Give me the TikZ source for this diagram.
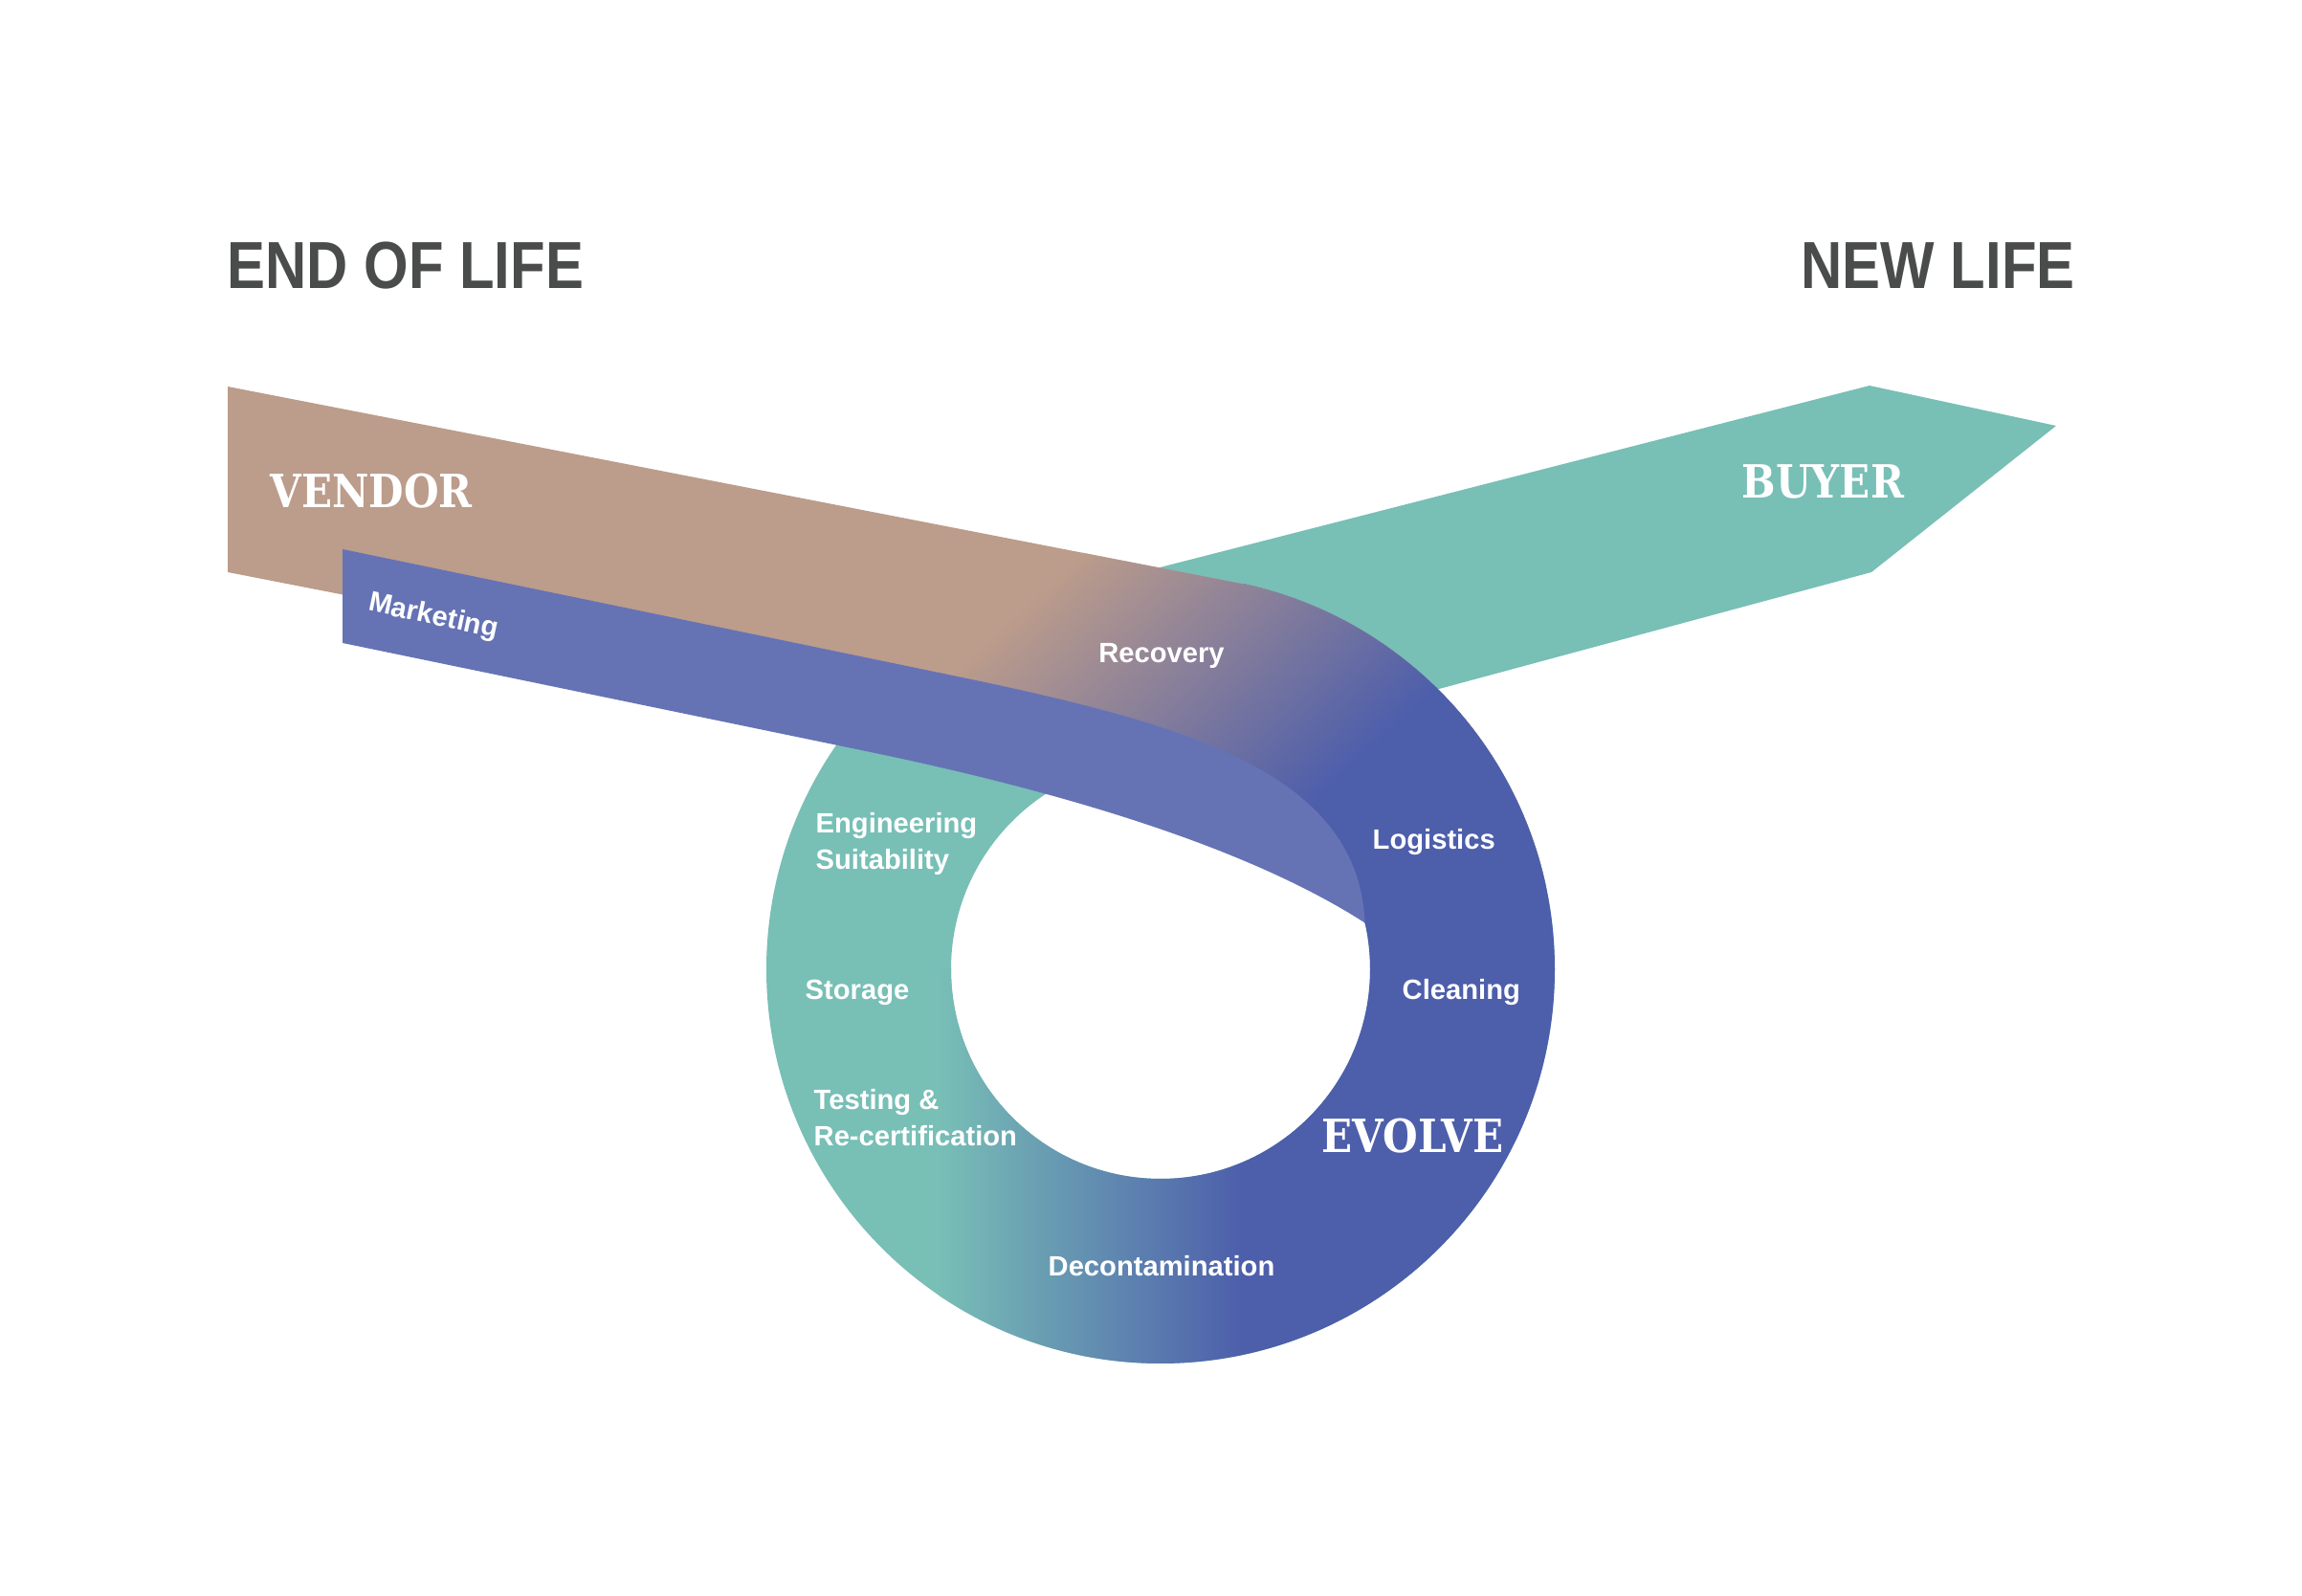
\documentclass[tikz,border=0pt]{standalone}
\usepackage{fontspec}
\setmainfont{Liberation Sans}
\newfontfamily\headfont[FakeStretch=0.86]{Liberation Sans}
\newfontfamily\slabfont[FakeStretch=0.88]{DejaVu Serif}
\usetikzlibrary{calc}

\definecolor{vendorbrown}{HTML}{BC9C8B}
\definecolor{loopteal}{HTML}{78BFB6}
\definecolor{loopblue}{HTML}{4D5EAB}
\definecolor{marketblue}{HTML}{6573B5}
\definecolor{headgray}{HTML}{4A4B4B}

\tikzset{
  headtitle/.style={anchor=base west, inner sep=0pt, text=headgray,
    font=\headfont\bfseries\fontsize{19.8}{22}\selectfont},
  slablabel/.style={anchor=base west, inner sep=0pt, text=white,
    font=\slabfont\bfseries\fontsize{13.6}{16}\selectfont},
  looplabel/.style={inner sep=0pt, text=white, align=left,
    font=\bfseries\fontsize{8.3}{10.8}\selectfont},
}

\begin{document}
\begin{tikzpicture}

  % page, 2406 x 1668 px at 100 px per cm
  \fill[white] (0,0) rectangle (24.06,16.68);
  \useasboundingbox (0,0) rectangle (24.06,16.68);

  % loop centre and radii
  \coordinate (c) at (12.13,6.55);
  \def\Rout{4.12}
  \def\Rin{2.19}
  \coordinate (tip) at ($(c)+(12.8:\Rin)$);

  % Buyer arrow (goes under the loop and the vendor band)
  \fill[loopteal] (11.5,10.59) -- (19.54,12.65) -- (21.49,12.23)
    -- (19.56,10.70) -- (14.3,9.28) -- cycle;

  % Loop: teal on the left, blue on the right, blend along the bottom
  \begin{scope}[even odd rule]
    \clip (c) circle[radius=\Rout] (c) circle[radius=\Rin];
    \fill[loopteal] (7.9,2.3) rectangle (16.4,10.8);
    \fill[loopblue] (13.0,2.3) rectangle (16.4,10.8);
    \shade[left color=loopteal, right color=loopblue] (9.8,2.3) rectangle (13.0,6.55);
  \end{scope}

  % Vendor band, running into the loop
  \begin{scope}
    \clip (2.38,12.64) -- ($(c)+(76.8:\Rout)$)
      arc[start angle=76.8, end angle=12.8, radius=\Rout] -- (tip)
      .. controls (13.6,8.1) and (11.7,8.85) .. (9.6,9.29)
      -- (2.38,10.70) -- cycle;
    \fill[vendorbrown] (2,6) rectangle (17,13);
    \begin{scope}[transform canvas={rotate around={-47:(12.51,9.59)}}]
      \shade[left color=vendorbrown, right color=loopblue] (10.73,3) rectangle (14.29,16);
      \fill[loopblue] (14.28,3) rectangle (20,16);
    \end{scope}
  \end{scope}

  % hide the joint where the vendor band ends in the loop
  \begin{scope}[even odd rule]
    \clip (c) circle[radius=\Rout] (c) circle[radius=\Rin];
    \draw[loopblue, line width=1.5pt] (tip) -- ($(c)+(12.8:\Rout)$);
  \end{scope}

  % Marketing band on top
  \fill[marketblue] (3.58,10.94) -- (10.2,9.57)
    .. controls (12.4,9.1) and (14.2,8.6) .. (tip)
    .. controls (13.0,7.85) and (11.0,8.43) .. (9.0,8.84)
    -- (3.58,9.96) -- cycle;

  % Titles
  \node[headtitle] (endlife) at (2.37,13.66) {END OF LIFE};
  \node[headtitle] (newlife) at (18.82,13.66) {NEW LIFE};

  % Band labels
  \node[slablabel] (vendor) at (2.82,11.37) {VENDOR};
  \node[slablabel] (buyer)  at (18.20,11.47) {BUYER};
  \node[slablabel] (evolve) at (13.81,4.63) {EVOLVE};
  \node[looplabel, rotate=-12] (marketing) at (4.53,10.23) {Marketing};

  % Loop steps
  \node[looplabel, anchor=base] (recovery) at (12.14,9.75) {Recovery};
  \node[looplabel, anchor=base west] (logistics) at (14.34,7.80) {Logistics};
  \node[looplabel, anchor=base west] (cleaning) at (14.65,6.23) {Cleaning};
  \node[looplabel, anchor=base] (decon) at (12.14,3.34) {Decontamination};
  \node[looplabel, anchor=north west] (testing) at (8.50,5.30) {Testing \&\\Re-certification};
  \node[looplabel, anchor=base west] (storage) at (8.41,6.23) {Storage};
  \node[looplabel, anchor=north west] (engineering) at (8.52,8.19) {Engineering\\Suitability};

\end{tikzpicture}
\end{document}
